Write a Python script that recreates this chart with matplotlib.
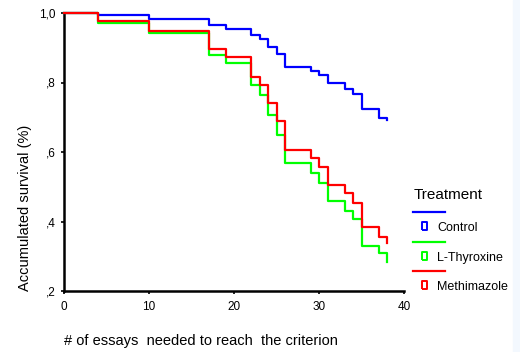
import matplotlib
matplotlib.use('Agg')
import matplotlib.pyplot as plt
from matplotlib.lines import Line2D
from matplotlib.patches import Rectangle
from matplotlib.ticker import FuncFormatter

plt.rcParams['font.family'] = ['Liberation Sans', 'DejaVu Sans']

# Kaplan-Meier estimates
times = [0, 4, 10, 17, 19, 22, 23, 24, 25, 26, 29, 30, 31, 33, 34, 35, 37, 38]
control = [1.0, .995, .983, .966, .955, .936, .925, .903, .882, .845, .834, .823, .800, .782, .767, .724, .698, .692]
thyroxine = [1.0, .971, .942, .879, .856, .794, .764, .706, .648, .568, .539, .510, .459, .430, .406, .330, .308, .284]
methimazole = [1.0, .976, .948, .896, .872, .816, .793, .741, .688, .607, .584, .556, .505, .481, .452, .383, .354, .337]

groups = ['Control', 'L-Thyroxine', 'Methimazole']
colors = ['#0000FF', '#00FF00', '#FF0000']
x_ticks = [0, 10, 20, 30, 40]
y_ticks = [0.2, 0.4, 0.6, 0.8, 1.0]

W, H = 520, 352
fig = plt.figure(figsize=(W / 100, H / 100), dpi=100)
fig.patches.append(Rectangle((513 / W, 0), 1, 1, transform=fig.transFigure,
                             color='#F3F8FE', zorder=0))

ax = fig.add_axes([64 / W, 1 - 291 / H, 340 / W, 278 / H])
ax.patch.set_alpha(0)

for vals, c in zip([control, thyroxine, methimazole], colors):
    ax.step(times, vals, where='post', color=c, lw=1.6, clip_on=False, zorder=3)

ax.set_xlim(0, 40)
ax.set_ylim(0.2, 1.0)
ax.set_xticks(x_ticks)
ax.set_yticks(y_ticks)
ax.yaxis.set_major_formatter(FuncFormatter(
    lambda v, p: '1,0' if v >= 0.99 else ',' + f'{v:.1f}'.split('.')[1]))
ax.tick_params(labelsize=8.5, length=2, width=1.2, colors='black')
ax.tick_params(axis='x', pad=5)
ax.tick_params(axis='y', pad=4)

for s in ['top', 'right']:
    ax.spines[s].set_visible(False)
for s in ['left', 'bottom']:
    ax.spines[s].set_linewidth(1.8)

ax.set_xlabel('# of essays  needed to reach  the criterion', fontsize=10.5, loc='left')
ax.xaxis.set_label_coords(0, -0.18)
ax.xaxis.label.set_va('center')
ax.set_ylabel('Accumulated survival (%)', fontsize=10.5)
ax.yaxis.set_label_coords(-0.095, 0.30)


# legend drawn in SPSS style: a line, then a marker with the label
def px(x, y):
    return x / W, 1 - y / H


fig.text(*px(414, 195), 'Treatment', fontsize=11, va='center', ha='left')
box = [(-0.6, -1), (0.6, -1), (0.6, 1), (-0.6, 1), (-0.6, -1)]
for i, (g, c) in enumerate(zip(groups, colors)):
    y0 = 212 + i * 29.5
    (x1, y1), (x2, y2) = px(413, y0), px(445, y0)
    fig.add_artist(Line2D([x1, x2], [y1, y2], color=c, lw=1.6,
                          transform=fig.transFigure))
    mx, my = px(424, y0 + 14)
    fig.add_artist(Line2D([mx], [my], marker=box, markersize=6, color=c,
                          markerfacecolor='white', markeredgewidth=1.4,
                          transform=fig.transFigure))
    fig.text(*px(437, y0 + 16), g, fontsize=9, va='center', ha='left')

fig.savefig('out.png', dpi=100)
